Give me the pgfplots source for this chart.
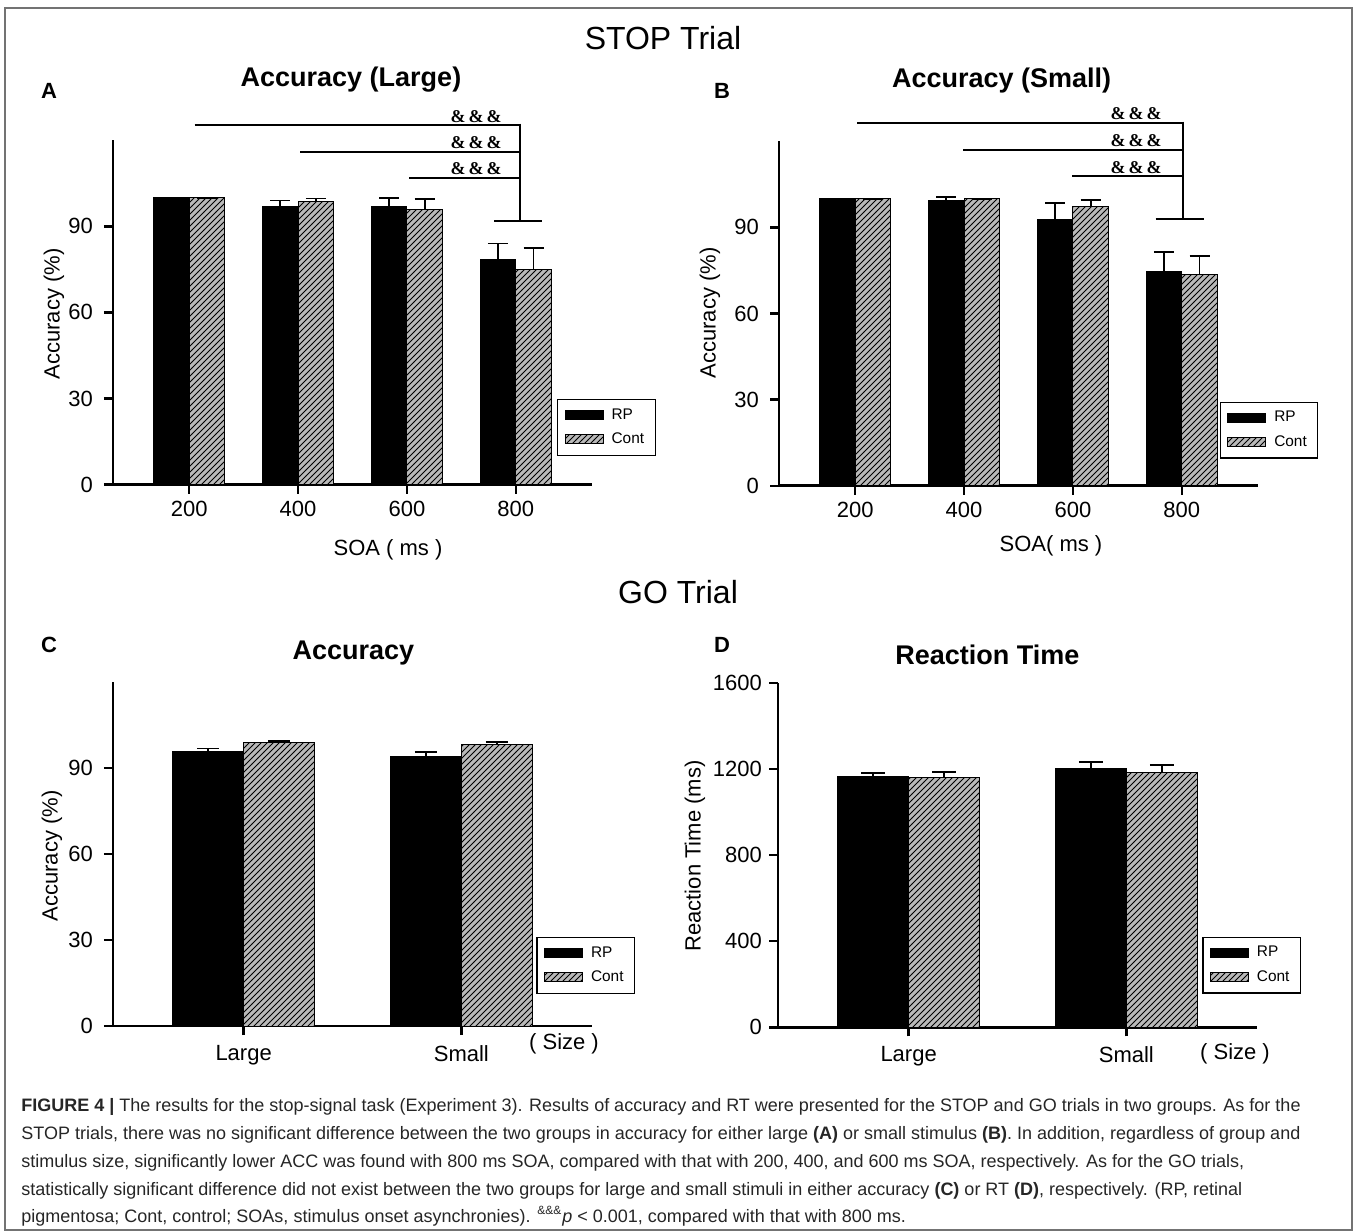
\documentclass[border=0pt]{standalone}
\usepackage{fontspec}
\setmainfont{Liberation Sans}
\newfontfamily\ampfont{Liberation Serif}
\usepackage{pgfplots}
\pgfplotsset{compat=1.18}
\usetikzlibrary{patterns}
\definecolor{contgray}{RGB}{185,185,185}
\pgfplotsset{
  legimg/.style={legend image code/.code={\draw[##1,line width=0.5pt] (0pt,-2.2pt) rectangle (19pt,2.2pt);}},
  errs/.style={/pgfplots/error bars/y dir=plus, /pgfplots/error bars/y explicit,
    /pgfplots/error bars/error bar style={line width=0.9pt, black},
    /pgfplots/error bars/error mark options={rotate=90, line width=0.9pt, black, mark size=#1}},
  rpbar/.style={fill=black, draw=black, line width=0.5pt, legimg, errs=#1},
  rpbar/.default=5pt,
  contbar/.style={fill=contgray, draw=black, line width=0.5pt, postaction={pattern=north east lines}, legimg, errs=#1},
  contbar/.default=5pt,
  panel/.style={scale only axis, width=239.5pt, height=172.2pt,
    axis lines=left, axis line style={-, line width=1.4pt},
    tick align=outside, major tick length=4.5pt,
    major tick style={line width=1.2pt, black},
    ybar=0pt, clip=false,
    tick label style={font=\fontsize{11}{13}\selectfont},
    /pgf/number format/assume math mode=true,
    /pgf/number format/1000 sep={},
    scaled y ticks=false,
    legend cell align=left,
    legend style={draw=black, line width=0.6pt, font=\fontsize{7.7}{9}\selectfont,
      inner xsep=3.5pt, inner ysep=2.5pt, row sep=1.2pt, column sep=2pt},
  },
}
\newcommand{\amps}{\&\,\&\,\&}
\begin{document}
\begin{tikzpicture}
\useasboundingbox (0,0) rectangle (678.5pt,-616pt);
\fill[white] (0,0) rectangle (678.5pt,-616pt);
\draw[black!55, line width=0.7pt] (2.5pt,-4pt) rectangle (676pt,-615pt);

% section titles
\node[font=\fontsize{16}{19}\selectfont] at (331.5pt,-19pt) {STOP Trial};
\node[font=\fontsize{16}{19}\selectfont] at (339pt,-296pt) {GO Trial};

% panel letters
\node[font=\fontsize{11}{13}\selectfont\bfseries] at (24.5pt,-45.5pt) {A};
\node[font=\fontsize{11}{13}\selectfont\bfseries] at (361pt,-45.5pt) {B};
\node[font=\fontsize{11}{13}\selectfont\bfseries] at (24.5pt,-322.5pt) {C};
\node[font=\fontsize{11}{13}\selectfont\bfseries] at (361pt,-322.5pt) {D};

% panel titles
\node[font=\fontsize{13.5}{16}\selectfont\bfseries] at (175.5pt,-40pt) {Accuracy (Large)};
\node[font=\fontsize{13.5}{16}\selectfont\bfseries] at (500.85pt,-40.5pt) {Accuracy (Small)};
\node[font=\fontsize{13.5}{16}\selectfont\bfseries] at (176.7pt,-326.5pt) {Accuracy};
\node[font=\fontsize{13.5}{16}\selectfont\bfseries] at (493.7pt,-327.5pt) {Reaction Time};

% axis labels
\node[font=\fontsize{11}{13}\selectfont, rotate=90] at (27pt,-157pt) {Accuracy (\%)};
\node[font=\fontsize{11}{13}\selectfont, rotate=90] at (355pt,-156.5pt) {Accuracy (\%)};
\node[font=\fontsize{11}{13}\selectfont, rotate=90] at (26pt,-428pt) {Accuracy (\%)};
\node[font=\fontsize{11}{13}\selectfont, rotate=90] at (347.5pt,-428pt) {Reaction Time (ms)};
\node[font=\fontsize{11}{13}\selectfont] at (194pt,-275pt) {SOA ( ms )};
\node[font=\fontsize{11}{13}\selectfont] at (525.5pt,-273pt) {SOA( ms )};
\node[font=\fontsize{11}{13}\selectfont] at (282pt,-522pt) {( Size )};
\node[font=\fontsize{11}{13}\selectfont] at (617.5pt,-527pt) {( Size )};

% ---------------- Panel A
\begin{axis}[panel, at={(56.5pt,-242.3pt)}, anchor=south west,
  xmin=-0.7, xmax=3.7, ymin=0, ymax=120, ytick={0,30,60,90},
  yticklabel style={xshift=-2pt},
  xtick={0,1,2,3}, xticklabels={200,400,600,800}, bar width=17.8pt,
  legend style={at={(0.927,0.249)}, anchor=north west}]
\addplot[rpbar] coordinates {(0,100) +- (0,0) (1,96.9) +- (0,2.1) (2,96.9) +- (0,2.9) (3,78.5) +- (0,5.5)};
\addplot[contbar] coordinates {(0,100) +- (0,0) (1,98.7) +- (0,1.0) (2,96.0) +- (0,3.4) (3,75.0) +- (0,7.4)};
\legend{RP,Cont}
\draw[line width=1pt] (axis cs:0.05,125.3) -- (axis cs:3.043,125.3);
\draw[line width=1pt] (axis cs:1.022,115.9) -- (axis cs:3.043,115.9);
\draw[line width=1pt] (axis cs:2.02,107.0) -- (axis cs:3.043,107.0);
\draw[line width=1pt] (axis cs:3.043,125.8) -- (axis cs:3.043,91.9);
\draw[line width=1pt] (axis cs:2.80,91.9) -- (axis cs:3.237,91.9);
\node[font=\ampfont\bfseries\fontsize{9}{10}\selectfont, anchor=south, inner sep=1.2pt] at (axis cs:2.635,125.3) {\amps};
\node[font=\ampfont\bfseries\fontsize{9}{10}\selectfont, anchor=south, inner sep=1.2pt] at (axis cs:2.635,115.9) {\amps};
\node[font=\ampfont\bfseries\fontsize{9}{10}\selectfont, anchor=south, inner sep=1.2pt] at (axis cs:2.635,107.0) {\amps};
\end{axis}

% ---------------- Panel B
\begin{axis}[panel, at={(389.5pt,-242.85pt)}, anchor=south west,
  xmin=-0.7, xmax=3.7, ymin=0, ymax=120, ytick={0,30,60,90},
  yticklabel style={xshift=-2pt},
  xtick={0,1,2,3}, xticklabels={200,400,600,800}, bar width=17.8pt,
  legend style={at={(0.920,0.244)}, anchor=north west}]
\addplot[rpbar] coordinates {(0,100) +- (0,0) (1,99.3) +- (0,1.3) (2,92.7) +- (0,5.9) (3,74.7) +- (0,6.8)};
\addplot[contbar] coordinates {(0,100) +- (0,0) (1,100) +- (0,0) (2,97.3) +- (0,2.3) (3,73.7) +- (0,6.3)};
\legend{RP,Cont}
\draw[line width=1pt] (axis cs:0.02,126.4) -- (axis cs:3.01,126.4);
\draw[line width=1pt] (axis cs:0.993,117.0) -- (axis cs:3.01,117.0);
\draw[line width=1pt] (axis cs:1.994,107.9) -- (axis cs:3.01,107.9);
\draw[line width=1pt] (axis cs:3.01,126.9) -- (axis cs:3.01,93.1);
\draw[line width=1pt] (axis cs:2.76,93.1) -- (axis cs:3.2,93.1);
\node[font=\ampfont\bfseries\fontsize{9}{10}\selectfont, anchor=south, inner sep=1.2pt] at (axis cs:2.58,126.4) {\amps};
\node[font=\ampfont\bfseries\fontsize{9}{10}\selectfont, anchor=south, inner sep=1.2pt] at (axis cs:2.58,117.0) {\amps};
\node[font=\ampfont\bfseries\fontsize{9}{10}\selectfont, anchor=south, inner sep=1.2pt] at (axis cs:2.58,107.9) {\amps};
\end{axis}

% ---------------- Panel C
\begin{axis}[panel, at={(56.5pt,-513pt)}, anchor=south west,
  xmin=-0.6, xmax=1.6, ymin=0, ymax=120, ytick={0,30,60,90},
  yticklabel style={xshift=-2pt},
  xtick={0,1}, xticklabels={Large,Small}, bar width=35.4pt,
  xticklabel style={yshift=-1.5pt},
  legend style={at={(0.884,0.259)}, anchor=north west}]
\addplot[rpbar=5.5pt] coordinates {(0,95.8) +- (0,0.9) (1,93.8) +- (0,1.7)};
\addplot[contbar=5.5pt] coordinates {(0,98.8) +- (0,0.5) (1,98.1) +- (0,0.8)};
\legend{RP,Cont}
\end{axis}

% ---------------- Panel D
\begin{axis}[panel, at={(389pt,-513.65pt)}, anchor=south west,
  xmin=-0.6, xmax=1.6, ymin=0, ymax=1600, ytick={0,400,800,1200,1600},
  xtick={0,1}, xticklabels={Large,Small}, bar width=35.5pt,
  xticklabel style={yshift=-1.5pt},
  legend style={at={(0.886,0.263)}, anchor=north west}]
\addplot[rpbar=6pt] coordinates {(0,1166) +- (0,15) (1,1202) +- (0,31)};
\addplot[contbar=6pt] coordinates {(0,1160) +- (0,26) (1,1183) +- (0,34)};
\legend{RP,Cont}
\end{axis}

% caption
\begin{scope}[every node/.style={anchor=west, inner sep=0pt, text=black!85, font=\fontsize{9}{11}\selectfont}]
\node at (10.5pt,-553.5pt) {\textbf{FIGURE 4 |} The results for the stop-signal task (Experiment 3). Results of accuracy and RT were presented for the STOP and GO trials in two groups. As for the};
\node at (10.5pt,-567.5pt) {STOP trials, there was no significant difference between the two groups in accuracy for either large \textbf{(A)} or small stimulus \textbf{(B)}. In addition, regardless of group and};
\node at (10.5pt,-581.5pt) {stimulus size, significantly lower ACC was found with 800 ms SOA, compared with that with 200, 400, and 600 ms SOA, respectively. As for the GO trials,};
\node at (10.5pt,-595.5pt) {statistically significant difference did not exist between the two groups for large and small stimuli in either accuracy \textbf{(C)} or RT \textbf{(D)}, respectively. (RP, retinal};
\node at (10.5pt,-608pt) {pigmentosa; Cont, control; SOAs, stimulus onset asynchronies). \textsuperscript{\&\&\&}\textit{p} < 0.001, compared with that with 800 ms.};
\end{scope}
\end{tikzpicture}
\end{document}
